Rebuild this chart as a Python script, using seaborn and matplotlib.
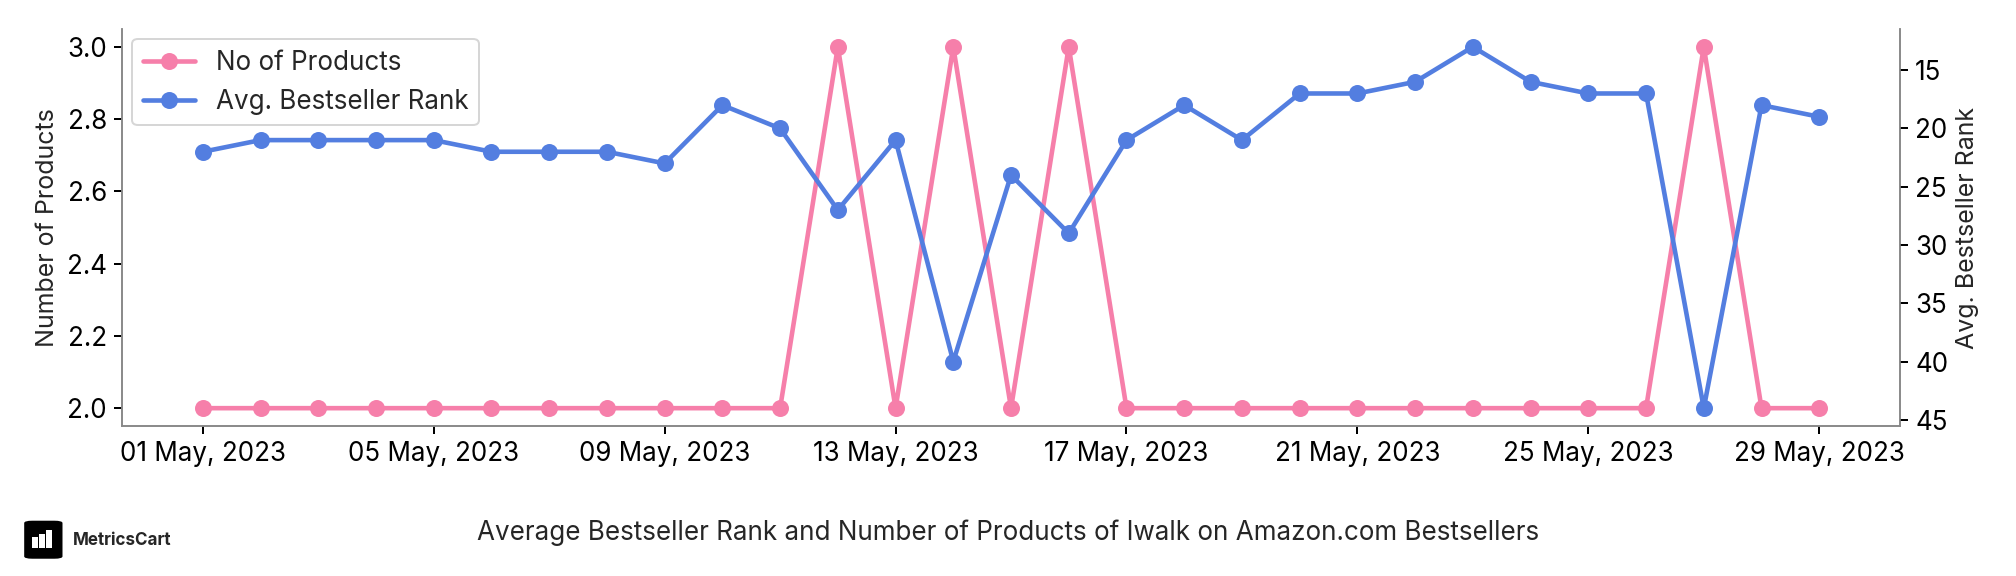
import pandas as pd
import numpy as np
import seaborn as sns
import matplotlib.pyplot as plt
import matplotlib.dates as mdates
from matplotlib.patches import FancyBboxPatch

sns.set_style('white')
plt.rcParams['font.family'] = ['Inter', 'DejaVu Sans']

dates = pd.date_range('2023-05-01', '2023-05-29', freq='D')
no_of_products = [2, 2, 2, 2, 2, 2, 2, 2, 2, 2, 2, 3, 2, 3, 2, 3, 2, 2, 2, 2,
                  2, 2, 2, 2, 2, 2, 3, 2, 2]
avg_rank = [22, 21, 21, 21, 21, 22, 22, 22, 23, 18, 20, 27, 21, 40, 24, 29, 21, 18,
            21, 17, 17, 16, 13, 16, 17, 17, 44, 18, 19]

pink = '#F67FAA'
blue = '#537EE0'

df = pd.DataFrame({'Date': dates, 'Products': no_of_products, 'Rank': avg_rank})

fig, ax = plt.subplots(figsize=(14, 4), dpi=144)
fig.subplots_adjust(left=0.0605, right=0.9425, top=0.95, bottom=0.26)
ax2 = ax.twinx()

sns.lineplot(data=df, x='Date', y='Products', ax=ax, color=pink, marker='o',
             markersize=8.5, markeredgewidth=0, linewidth=2.3, label='No of Products',
             legend=False)
sns.lineplot(data=df, x='Date', y='Rank', ax=ax2, color=blue, marker='o',
             markersize=8.5, markeredgewidth=0, linewidth=2.3, label='Avg. Bestseller Rank',
             legend=False)

ax2.invert_yaxis()
ax.set_yticks(np.arange(2.0, 3.01, 0.2))
ax.yaxis.set_major_formatter(plt.FormatStrFormatter('%.1f'))
ax2.set_yticks(range(15, 46, 5))

ax.set_xticks(pd.date_range('2023-05-01', '2023-05-29', freq='4D'))
ax.xaxis.set_major_formatter(mdates.DateFormatter('%d %b, %Y'))

ax.set_xlabel('')
ax.set_ylabel('Number of Products', fontsize=12.5)
ax2.set_ylabel('Avg. Bestseller Rank', fontsize=12.5)

ax.tick_params(axis='both', labelsize=13, length=4, width=1, colors='black',
               left=True, bottom=True)
ax2.tick_params(axis='y', labelsize=13, length=4, width=1, colors='black',
                right=True, left=False)
for a in (ax, ax2):
    a.spines['top'].set_visible(False)
    for s in ('left', 'bottom', 'right'):
        a.spines[s].set_color('#888888')

h1, l1 = ax.get_legend_handles_labels()
h2, l2 = ax2.get_legend_handles_labels()
leg = ax2.legend(h1 + h2, l1 + l2, loc='upper left', fontsize=13, frameon=True,
                 edgecolor='#cccccc', fancybox=True, borderaxespad=0.4)

fig.text(0.5, 0.075, 'Average Bestseller Rank and Number of Products of Iwalk on Amazon.com Bestsellers',
         ha='center', va='center', fontsize=13)

# logo
logo = FancyBboxPatch((0.012, 0.03), 0.019, 0.066, boxstyle='round,pad=0,rounding_size=0.004',
                      transform=fig.transFigure, facecolor='black', edgecolor='none')
fig.patches.append(logo)
for i, hgt in enumerate([0.016, 0.022, 0.028]):
    fig.patches.append(plt.Rectangle((0.0165 + i * 0.0035, 0.05), 0.0018, hgt,
                                     transform=fig.transFigure, facecolor='white'))
fig.text(0.036, 0.061, 'MetricsCart', ha='left', va='center', fontsize=8.5, fontweight='bold')

fig.savefig('out.png', dpi=144)
